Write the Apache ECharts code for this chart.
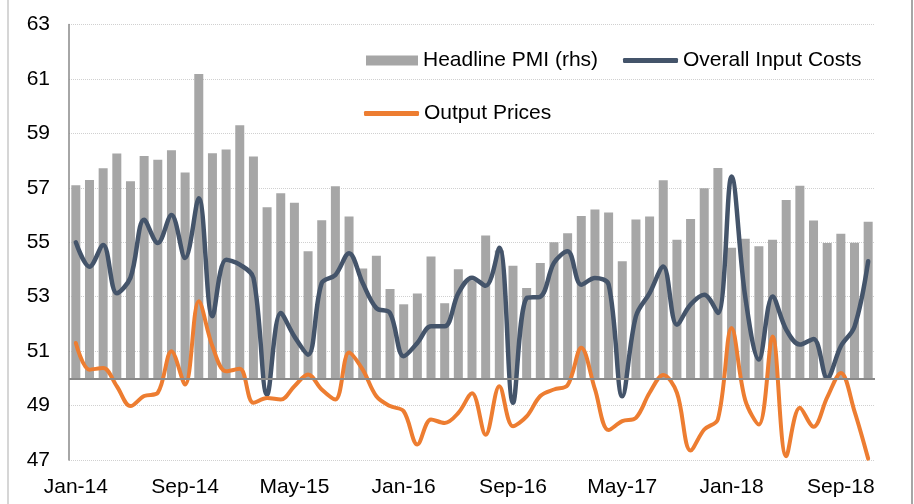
<!DOCTYPE html>
<html>
<head>
<meta charset="utf-8">
<script src="https://cdn.jsdelivr.net/npm/echarts@6/dist/echarts.min.js"></script>
<style>
html,body{margin:0;padding:0;background:#fff;}
#chart{width:914px;height:504px;}
</style>
</head>
<body>
<div id="chart"></div>
<script>
var categories = [
 'Jan-14','Feb-14','Mar-14','Apr-14','May-14','Jun-14','Jul-14','Aug-14','Sep-14','Oct-14','Nov-14','Dec-14',
 'Jan-15','Feb-15','Mar-15','Apr-15','May-15','Jun-15','Jul-15','Aug-15','Sep-15','Oct-15','Nov-15','Dec-15',
 'Jan-16','Feb-16','Mar-16','Apr-16','May-16','Jun-16','Jul-16','Aug-16','Sep-16','Oct-16','Nov-16','Dec-16',
 'Jan-17','Feb-17','Mar-17','Apr-17','May-17','Jun-17','Jul-17','Aug-17','Sep-17','Oct-17','Nov-17','Dec-17',
 'Jan-18','Feb-18','Mar-18','Apr-18','May-18','Jun-18','Jul-18','Aug-18','Sep-18','Oct-18','Nov-18'
];
var headlinePMI = [
 57.09,57.29,57.72,58.26,57.24,58.17,58.03,58.38,57.56,61.18,58.27,58.41,
 59.30,58.15,56.29,56.80,56.45,54.67,55.81,57.06,55.95,54.04,54.50,53.28,
 52.72,53.12,54.48,52.76,54.01,53.60,55.25,54.70,54.14,53.32,54.24,55.00,
 55.33,55.96,56.20,56.09,54.30,55.84,55.95,57.28,55.09,55.85,56.98,57.73,
 54.80,55.13,54.85,55.09,56.55,57.08,55.80,54.97,55.31,54.98,55.75
];
var inputCosts = [
 55.00,54.10,54.90,53.13,53.70,55.83,54.97,56.00,54.42,56.62,52.28,54.36,
 54.18,53.69,49.40,52.40,51.54,50.87,53.50,53.80,54.60,53.50,52.58,52.40,
 50.81,51.30,51.91,51.91,53.13,53.70,53.40,54.80,49.10,52.95,53.00,54.24,
 54.67,53.44,53.69,53.45,49.34,52.28,53.13,54.11,51.97,52.71,53.07,52.40,
 57.42,53.00,50.69,53.01,51.79,51.24,51.45,50.02,51.18,51.90,54.30
];
var outputPrices = [
 51.30,50.32,50.38,49.71,48.98,49.35,49.47,51.00,49.77,52.83,51.18,50.26,
 50.35,49.10,49.28,49.22,49.71,50.14,49.59,49.22,50.95,50.32,49.34,48.98,
 48.79,47.57,48.49,48.36,48.73,49.45,47.93,49.71,48.24,48.60,49.35,49.59,
 49.75,51.12,49.60,48.10,48.43,48.55,49.47,50.12,49.47,47.35,48.12,48.50,
 51.85,49.20,48.30,51.54,47.14,48.92,48.22,49.30,50.20,48.79,47.05
];
var yTicks = { min: 47, max: 63, interval: 2 };
var barBase = 50;

var baseData = headlinePMI.map(function(){ return barBase; });
var barData = headlinePMI.map(function(v){ return +(v - barBase).toFixed(2); });

var FONT = 'Liberation Sans, Arial, sans-serif';
var chart = echarts.init(document.getElementById('chart'), null, {renderer:'canvas'});
var legendText = {fontSize:21, color:'#000', fontFamily:FONT};
chart.setOption({
  animation:false,
  backgroundColor:'#fff',
  graphic:[
    {type:'line', shape:{x1:8,y1:0,x2:8,y2:504}, style:{stroke:'#c8c8c8', lineWidth:1.5}, z:0},
    {type:'line', shape:{x1:912,y1:0,x2:912,y2:504}, style:{stroke:'#a6a6a6', lineWidth:2}, z:0}
  ],
  grid:{left:69, right:39, top:24.5, bottom:44},
  legend:[
    {left:361, top:45, itemWidth:52, itemHeight:10, selectedMode:false, textStyle:legendText,
     data:[{name:'Headline PMI (rhs)', icon:'rect'}]},
    {left:618, top:45, itemWidth:55, itemHeight:5, selectedMode:false, textStyle:legendText,
     data:[{name:'Overall Input Costs', icon:'roundRect', itemStyle:{color:'#44546a'}}]},
    {left:359, top:98, itemWidth:55, itemHeight:5, selectedMode:false, textStyle:legendText,
     data:[{name:'Output Prices', icon:'roundRect', itemStyle:{color:'#ed7d31'}}]}
  ],
  xAxis:{
    type:'category', data:categories, boundaryGap:true,
    axisLine:{show:false}, axisTick:{show:false},
    axisLabel:{interval:7, margin:17, fontSize:21, color:'#000', fontFamily:FONT}
  },
  yAxis:{
    type:'value', min:yTicks.min, max:yTicks.max, interval:yTicks.interval,
    axisLine:{show:true, lineStyle:{color:'#898989', width:1.5}},
    axisTick:{show:false},
    axisLabel:{margin:19, fontSize:21, color:'#000', fontFamily:FONT},
    splitLine:{show:true, lineStyle:{color:'#d0d0d0', type:'dotted', width:1}}
  },
  series:[
    {name:'base', type:'bar', stack:'pmi', data:baseData, barWidth:9, silent:true,
     itemStyle:{color:'rgba(0,0,0,0)'}},
    {name:'Headline PMI (rhs)', type:'bar', stack:'pmi', data:barData, barWidth:9,
     itemStyle:{color:'#a6a6a6'},
     markLine:{silent:true, symbol:'none', label:{show:false},
       lineStyle:{color:'#898989', width:2, type:'solid'},
       data:[{yAxis:barBase}]}},
    {name:'Overall Input Costs', type:'line', data:inputCosts, smooth:0.35, symbol:'none',
     lineStyle:{color:'#44546a', width:4.5, cap:'round', join:'round'}, itemStyle:{color:'#44546a'}, z:3},
    {name:'Output Prices', type:'line', data:outputPrices, smooth:0.35, symbol:'none',
     lineStyle:{color:'#ed7d31', width:4, cap:'round', join:'round'}, itemStyle:{color:'#ed7d31'}, z:4}
  ]
});
</script>
</body>
</html>
